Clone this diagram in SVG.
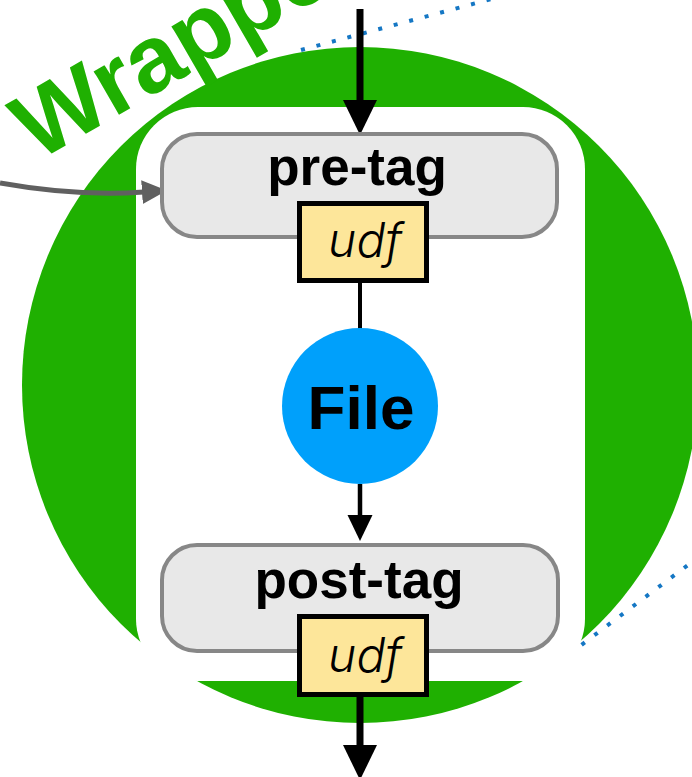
<svg xmlns="http://www.w3.org/2000/svg" width="692" height="777" viewBox="0 0 692 777">
<style>
.tag{fill:#e8e8e8;stroke:#878787;stroke-width:4}
.udf{fill:#fde69a;stroke:#000;stroke-width:5}
.lbl{font-family:"Liberation Sans",Arial,sans-serif;font-weight:bold;font-size:53px;fill:#000;text-anchor:middle}
.udft{font-family:Inter,"Liberation Sans",sans-serif;font-weight:300;font-style:italic;font-size:48px;fill:#000;text-anchor:middle}
.dot{fill:none;stroke:#1577c4;stroke-width:4;stroke-dasharray:4 12}
.blk{fill:none;stroke:#000}
</style>
<defs>
<marker id="bigHead" markerUnits="userSpaceOnUse" markerWidth="36" markerHeight="36" viewBox="0 0 36 36" refX="2" refY="17" orient="auto">
<path d="M0,0 L35,17 L0,34 z" fill="#000"/>
</marker>
<marker id="smallHead" markerUnits="userSpaceOnUse" markerWidth="28" markerHeight="28" viewBox="0 0 28 28" refX="2" refY="12.5" orient="auto">
<path d="M0,0 L26,12.5 L0,25 z" fill="#000"/>
</marker>
<marker id="grayHead" markerUnits="userSpaceOnUse" markerWidth="28" markerHeight="28" viewBox="0 0 28 28" refX="2" refY="12" orient="auto">
<path d="M0,0 L25,12 L0,24 z" fill="#606060"/>
</marker>
</defs>
<g id="guides">
<line class="dot" x1="301" y1="50" x2="540" y2="-14"/>
<line class="dot" x1="556" y1="664" x2="700" y2="556"/>
</g>
<g id="wrapper">
<circle cx="360" cy="385" r="338" fill="#1fb001"/>
<rect x="136" y="107" width="449" height="574" rx="62" ry="62" fill="#fff"/>
<text x="37" y="162" transform="rotate(-30 37 162)" font-family="'Liberation Sans',Arial,sans-serif" font-weight="bold" font-size="95" fill="#1fb001">Wrapper</text>
</g>
<g id="connectors">
<line class="blk" x1="360" y1="9" x2="360" y2="102" stroke-width="7" marker-end="url(#bigHead)"/>
<line class="blk" x1="360" y1="283" x2="360" y2="330" stroke-width="4"/>
<line class="blk" x1="360" y1="484" x2="360" y2="517" stroke-width="4.5" marker-end="url(#smallHead)"/>
<line class="blk" x1="360" y1="697" x2="360" y2="747" stroke-width="7" marker-end="url(#bigHead)"/>
<path d="M0,183 C50,192 100,195 144,192" fill="none" stroke="#606060" stroke-width="5" marker-end="url(#grayHead)"/>
</g>
<g id="pre-tag">
<rect class="tag" x="162" y="134" width="395" height="103" rx="35" ry="35"/>
<text class="lbl" x="357" y="185">pre-tag</text>
</g>
<g id="pre-udf">
<rect class="udf" x="299.5" y="203.5" width="127" height="77"/>
<text class="udft" x="365" y="257">udf</text>
</g>
<g id="file">
<circle cx="360" cy="406" r="78" fill="#00a0fb"/>
<text class="lbl" x="361" y="429" style="font-size:62px">File</text>
</g>
<g id="post-tag">
<rect class="tag" x="162" y="545" width="396" height="106" rx="35" ry="35"/>
<text class="lbl" x="359" y="598">post-tag</text>
</g>
<g id="post-udf">
<rect class="udf" x="299.5" y="616.5" width="127" height="78"/>
<text class="udft" x="365" y="672">udf</text>
</g>
</svg>
